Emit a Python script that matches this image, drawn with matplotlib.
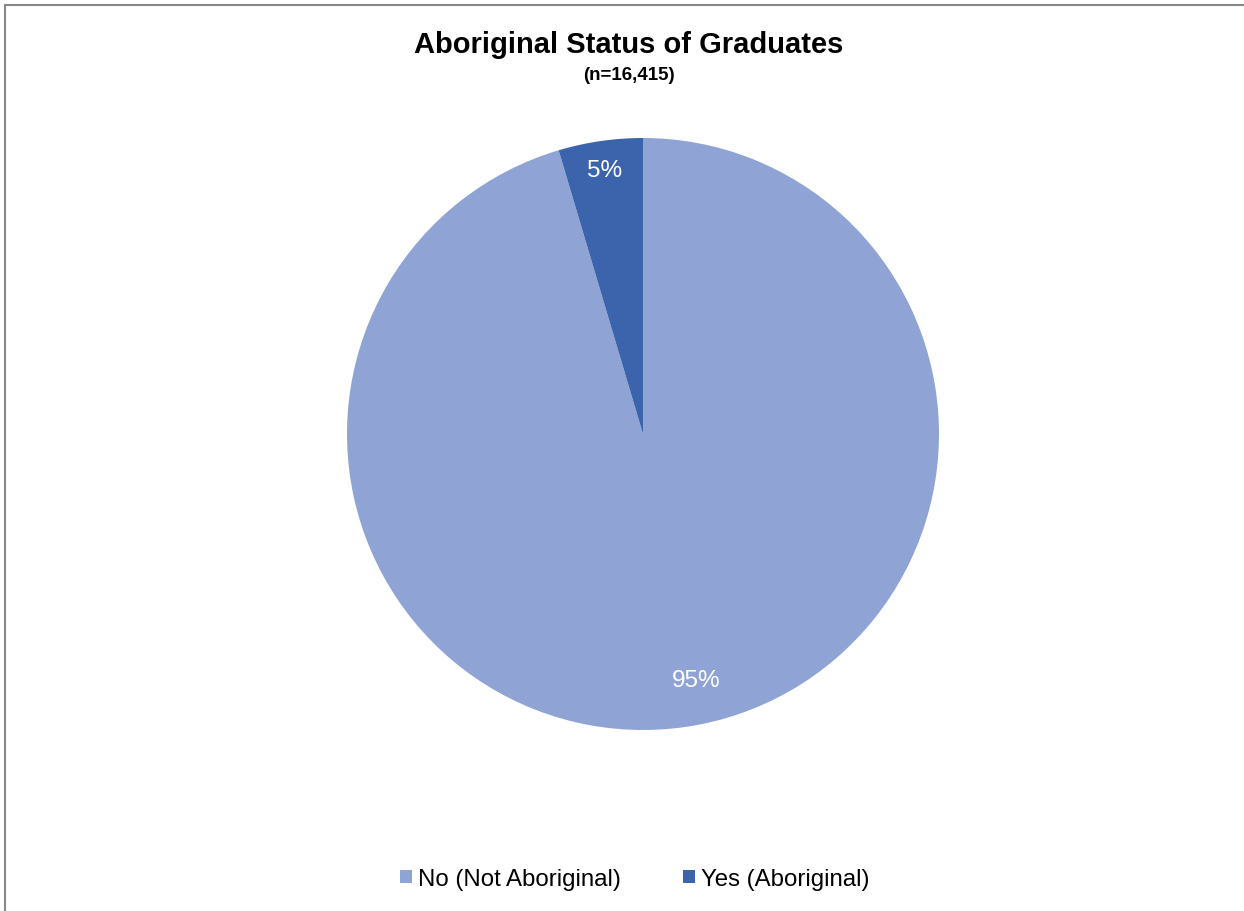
import matplotlib.pyplot as plt
from matplotlib.patches import Rectangle

plt.rcParams['font.family'] = ['Liberation Sans', 'DejaVu Sans']

labels = ['No (Not Aboriginal)', 'Yes (Aboriginal)']
counts = [15660, 755]
colors = ['#8FA3D5', '#3C64AD']

fig = plt.figure(figsize=(12.44, 9.12), dpi=100)

# frame like the excel chart area, runs off right/bottom
fig.patches.append(Rectangle((5 / 1244, -0.01), 1.05, 1 - 6 / 912 + 0.01,
                             transform=fig.transFigure, fill=False,
                             edgecolor='#888888', linewidth=1.5))

ax = fig.add_axes([347 / 1244, 181 / 912, 592 / 1244, 592 / 912])
wedges, texts, autotexts = ax.pie(counts, colors=colors, startangle=90, counterclock=False,
                                  autopct=lambda p: f'{p:.0f}%', pctdistance=0.9,
                                  radius=1, textprops={'color': 'white', 'fontsize': 17.5})
# excel "best fit" puts the big label a bit off the slice middle
autotexts[0].set_position((0.18, -0.83))
ax.set_xlim(-1, 1)
ax.set_ylim(-1, 1)
ax.set_aspect('equal')

fig.text(629 / 1244, 1 - 45 / 912, 'Aboriginal Status of Graduates', ha='center', va='center',
         fontsize=21, fontweight='bold')
fig.text(629 / 1244, 1 - 76 / 912, '(n=16,415)', ha='center', va='center',
         fontsize=13.5, fontweight='bold')

fig.legend(wedges, labels, loc='center', bbox_to_anchor=(635 / 1244, 1 - 880 / 912),
           ncol=2, frameon=False, fontsize=17.3, handlelength=0.5, handleheight=0.5,
           handletextpad=0.25, columnspacing=2.6)

fig.savefig('out.png', dpi=100)
